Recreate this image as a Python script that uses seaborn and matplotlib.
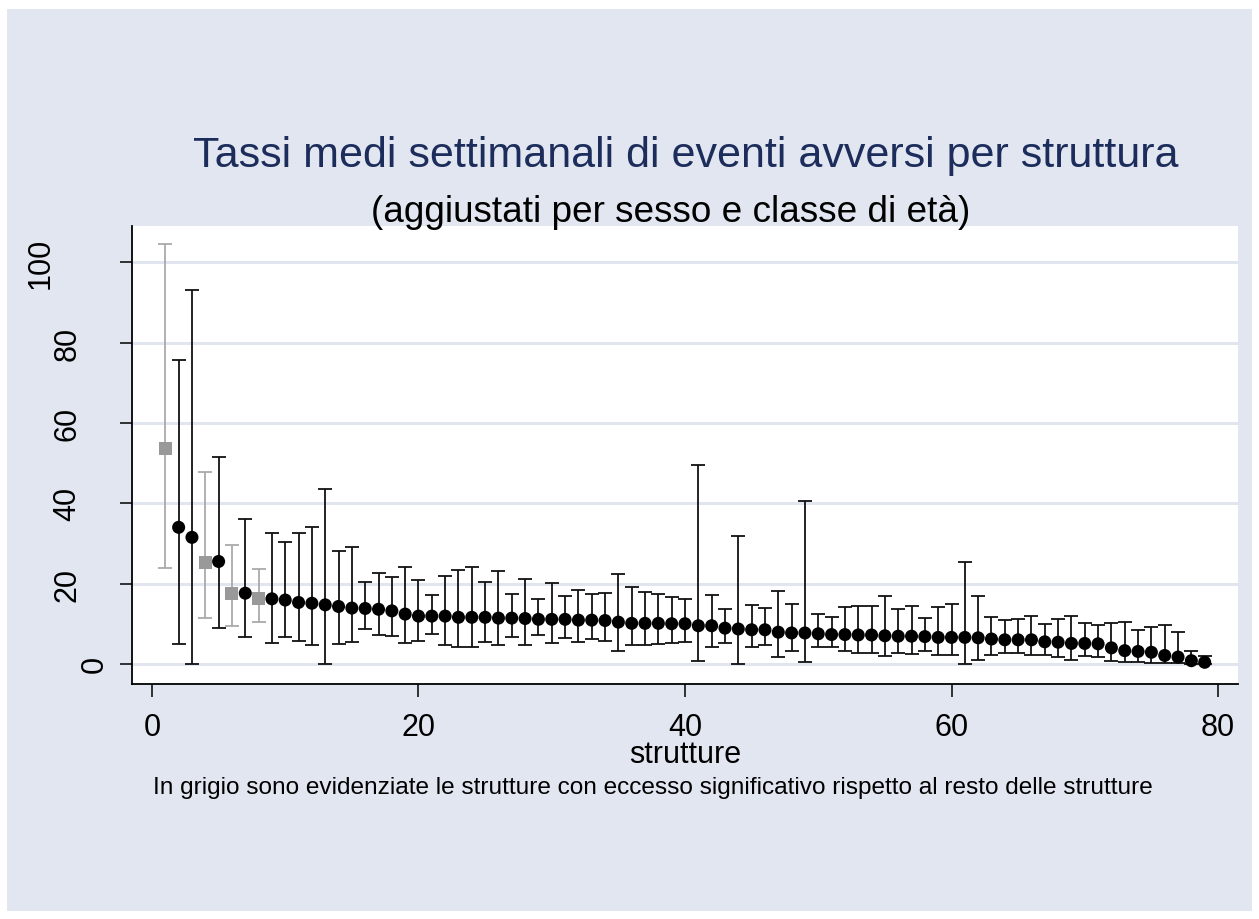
import numpy as np
import pandas as pd
import matplotlib
matplotlib.use('Agg')
import matplotlib.pyplot as plt
from matplotlib.patches import Rectangle
from matplotlib.transforms import blended_transform_factory
import seaborn as sns

# ================= dati =================
struttura = list(range(1, 80))

tasso = [53.5, 34.0, 31.5, 25.3, 25.5, 17.6, 17.6, 16.3, 16.2, 15.9,
         15.3, 15.1, 14.7, 14.3, 13.9, 13.8, 13.6, 13.2, 12.4, 11.9,
         11.9, 11.9, 11.6, 11.6, 11.6, 11.4, 11.4, 11.3, 11.1, 11.1,
         11.1, 10.9, 10.9, 10.8, 10.4, 10.1, 10.1, 10.1, 10.0, 10.0,
         9.5, 9.5, 8.9, 8.7, 8.5, 8.5, 7.9, 7.7, 7.7, 7.5,
         7.3, 7.3, 7.2, 7.2, 7.0, 6.9, 6.9, 6.8, 6.6, 6.6,
         6.6, 6.5, 6.2, 6.0, 6.0, 6.0, 5.5, 5.4, 5.1, 5.1,
         5.0, 4.0, 3.3, 3.1, 2.9, 2.1, 1.7, 0.8, 0.4]

ic_inf = [23.9, 5.0, 0.0, 11.4, 8.9, 9.5, 6.8, 10.5, 5.2, 6.8,
          5.8, 4.7, 0.0, 5.0, 5.5, 8.7, 7.2, 7.0, 5.1, 5.8,
          7.5, 4.6, 4.3, 4.3, 5.4, 4.6, 6.8, 4.8, 7.1, 5.2,
          6.5, 5.5, 6.2, 5.6, 3.3, 4.6, 4.8, 5.0, 5.2, 5.4,
          0.8, 4.3, 5.2, 0.0, 4.1, 4.6, 1.8, 3.2, 0.5, 4.1,
          4.1, 3.1, 2.7, 2.7, 1.9, 2.7, 2.4, 3.3, 2.2, 2.1,
          0.0, 1.0, 2.3, 2.7, 2.6, 2.1, 2.3, 1.7, 1.0, 1.9,
          1.8, 0.8, 0.4, 0.4, 0.2, 0.2, 0.2, 0.0, 0.0]

ic_sup = [104.4, 75.6, 93.0, 47.7, 51.4, 29.6, 36.1, 23.6, 32.6, 30.3,
          32.6, 34.2, 43.5, 28.0, 29.2, 20.3, 22.6, 21.7, 24.0, 20.9,
          17.2, 22.0, 23.5, 24.2, 20.5, 23.2, 17.4, 21.1, 16.2, 20.1,
          16.8, 18.3, 17.3, 17.7, 22.4, 19.1, 18.0, 17.4, 16.6, 16.2,
          49.5, 17.2, 13.7, 31.9, 14.7, 13.9, 18.2, 14.9, 40.6, 12.3,
          11.6, 14.1, 14.4, 14.5, 17.0, 13.7, 14.5, 11.4, 14.2, 14.8,
          25.4, 17.0, 11.7, 11.0, 11.2, 12.0, 10.0, 11.2, 12.0, 10.2,
          9.7, 10.1, 10.5, 8.5, 9.1, 9.8, 8.0, 3.1, 1.9]

# strutture con eccesso significativo (in grigio)
in_eccesso = [1, 4, 6, 8]

x_ticks = [0, 20, 40, 60, 80]
y_ticks = [0, 20, 40, 60, 80, 100]

df = pd.DataFrame({'struttura': struttura, 'tasso': tasso,
                   'inf': ic_inf, 'sup': ic_sup})
df['gruppo'] = np.where(df['struttura'].isin(in_eccesso), 'eccesso', 'normale')

# ================= stile =================
sns.set_theme(style='white')
plt.rcParams['font.family'] = ['Liberation Sans', 'DejaVu Sans']

sfondo = '#e2e6f0'
blu_titolo = '#1c2d5c'
colori = {'normale': 'black', 'eccesso': '#999999'}
colori_barre = {'normale': '#111111', 'eccesso': '#aaaaaa'}

fig = plt.figure(figsize=(12.59, 9.20), dpi=100, facecolor='white')
fig.patches.append(Rectangle((7 / 1259, 8 / 920), 1245 / 1259, 902 / 920,
                             transform=fig.transFigure, facecolor=sfondo,
                             edgecolor='none', zorder=-5))

ax = fig.add_axes([132 / 1259, 1 - 685 / 920, 1106 / 1259, 458 / 920])
ax.set_facecolor('white')
ax.set_zorder(1)

# griglia orizzontale
for yv in y_ticks:
    ax.axhline(yv, color='#e1e5ef', lw=2.2, zorder=0)

# intervalli di confidenza
for g, sub in df.groupby('gruppo'):
    ax.errorbar(sub['struttura'], sub['tasso'],
                yerr=[sub['tasso'] - sub['inf'], sub['sup'] - sub['tasso']],
                fmt='none', ecolor=colori_barre[g], elinewidth=1.3,
                capsize=5, capthick=1.3, zorder=2)

sns.scatterplot(data=df, x='struttura', y='tasso', hue='gruppo', style='gruppo',
                palette=colori, markers={'normale': 'o', 'eccesso': 's'},
                s=88, linewidth=0, legend=False, ax=ax, zorder=3)

ax.set_xlim(-1.5, 81.5)
ax.set_ylim(-5, 109)
ax.set_xticks(x_ticks)
ax.set_yticks(y_ticks)
ax.set_yticklabels([])
ax.tick_params(axis='both', labelsize=22, colors='black', direction='out',
               length=9, width=1.1, left=True, bottom=True)
ax.tick_params(axis='x', pad=11)

# etichette y verticali, spostate come nel grafico Stata originale
trans = blended_transform_factory(fig.transFigure, ax.transData)
for yv in y_ticks:
    lab = str(yv)
    xc = {1: 95, 2: 67.5, 3: 40.5}[len(lab)]
    ax.text(xc / 1259, yv, lab, transform=trans, rotation=90,
            ha='center', va='center', fontsize=22, color='black', clip_on=False)

for s in ['top', 'right']:
    ax.spines[s].set_visible(False)
for s in ['left', 'bottom']:
    ax.spines[s].set_color('black')
    ax.spines[s].set_linewidth(1.3)

ax.set_xlabel('')
ax.set_ylabel('')

# titoli, etichetta asse e nota
fig.text(686 / 1259, 1 - 167 / 920, 'Tassi medi settimanali di eventi avversi per struttura',
         ha='center', va='baseline', fontsize=31, color=blu_titolo)
fig.text(671 / 1259, 1 - 222 / 920, '(aggiustati per sesso e classe di età)',
         ha='center', va='baseline', fontsize=26.6, color='black')
fig.text(685 / 1259, 1 - 763 / 920, 'strutture',
         ha='center', va='baseline', fontsize=22, color='black')
fig.text(653 / 1259, 1 - 794 / 920,
         'In grigio sono evidenziate le strutture con eccesso significativo rispetto al resto delle strutture',
         ha='center', va='baseline', fontsize=17.6, color='black')

fig.savefig('out.png', dpi=100, facecolor=fig.get_facecolor())
